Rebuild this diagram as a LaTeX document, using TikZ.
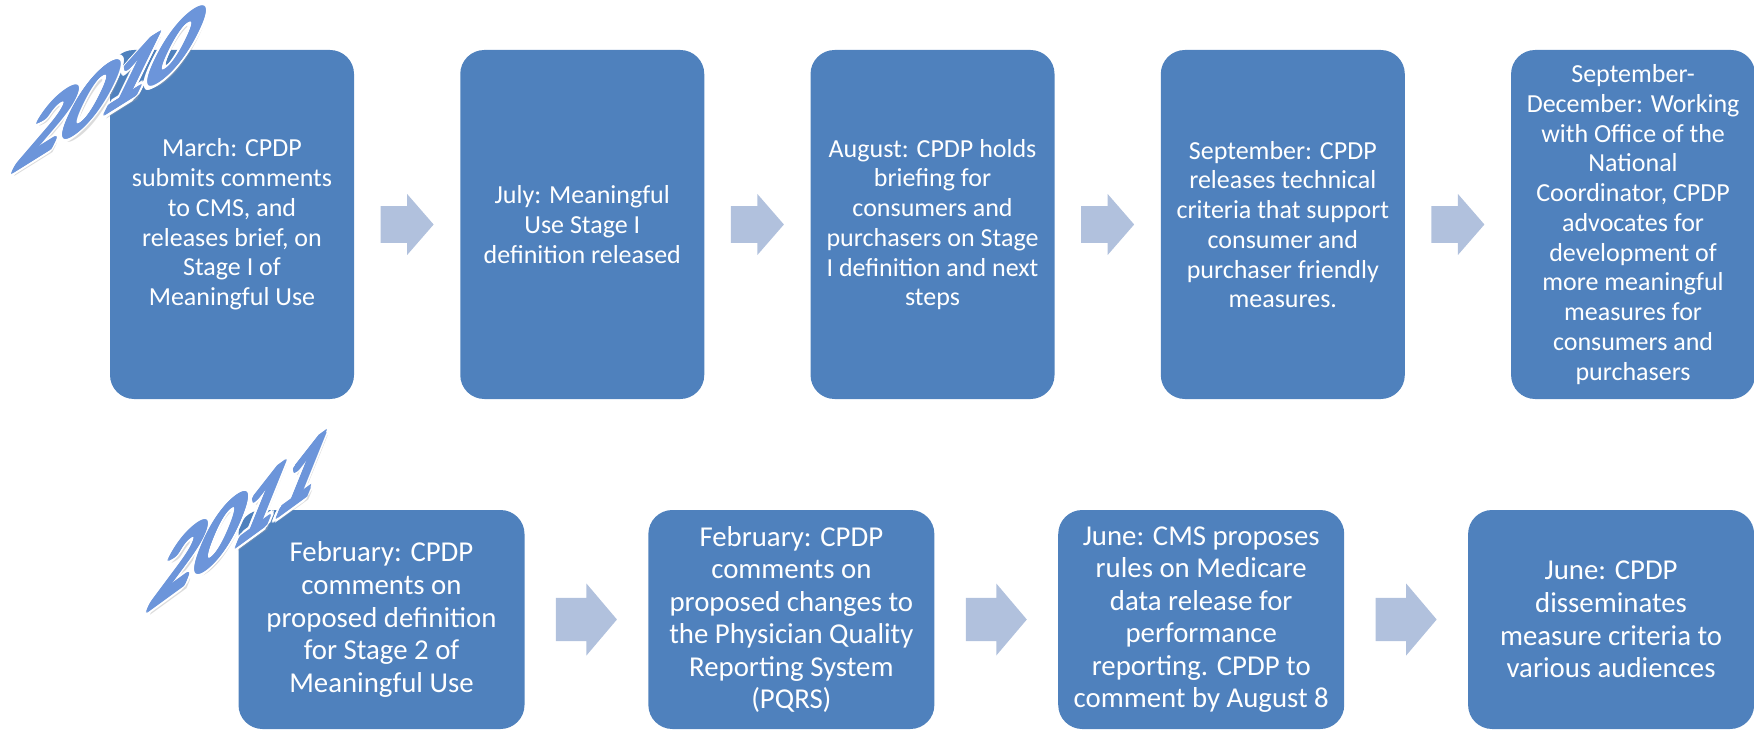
\documentclass[tikz,border=0pt]{standalone}
\usepackage{fontspec}
\setmainfont{Carlito}
\usetikzlibrary{positioning,calc}

\definecolor{boxblue}{HTML}{4F81BD}
\definecolor{arrowblue}{HTML}{B1C1DD}
\definecolor{yearblue}{HTML}{6C95DA}

\newcommand\tightyr[4]{#1\kern-.02em#2\kern-.02em#3\kern-.02em#4}

\tikzset{
  evt/.style={fill=boxblue,rounded corners=18pt,text=white,align=center,inner sep=0pt},
  evtA/.style={evt,minimum width=183pt,minimum height=261.75pt,font=\fontsize{19.5}{22.3}\selectfont},
  evtB/.style={evt,minimum width=214.5pt,minimum height=164.25pt,font=\fontsize{21.6}{24.4}\selectfont},
  fwd/.pic={\fill[arrowblue] (-.5,-.3)--(0,-.3)--(0,-.5)--(.5,0)--(0,.5)--(0,.3)--(-.5,.3)--cycle;},
  yr/.style={font=\bfseries\fontsize{74}{74}\selectfont,inner sep=0pt,transform shape}
}

\begin{document}
\begin{tikzpicture}[x=0.75pt,y=-0.75pt]
\useasboundingbox (0,0) rectangle (1754,731);

% 2010
\node[evtA] (m1) at (232,224.5) {March: CPDP\\submits comments\\to CMS, and\\releases brief, on\\Stage I of\\Meaningful Use};
\node[evtA,right=79.3pt of m1] (m2) {July: Meaningful\\Use Stage I\\definition released};
\node[evtA,right=79.3pt of m2] (m3) {August: CPDP holds\\briefing for\\consumers and\\purchasers on Stage\\I definition and next\\steps};
\node[evtA,right=79.3pt of m3] (m4) {September: CPDP\\releases technical\\criteria that support\\consumer and\\purchaser friendly\\measures.};
\node[evtA,right=79.3pt of m4] (m5) {September-\\December: Working\\with Office of the\\National\\Coordinator, CPDP\\advocates for\\development of\\more meaningful\\measures for\\consumers and\\purchasers};

% 2011
\node[evtB] (n1) at (381.5,619.5) {February: CPDP\\comments on\\proposed definition\\for Stage 2 of\\Meaningful Use};
\node[evtB,right=92.5pt of n1] (n2) {February: CPDP\\comments on\\proposed changes to\\the Physician Quality\\Reporting System\\(PQRS)};
\node[evtB,right=92.5pt of n2] (n3) {June: CMS proposes\\rules on Medicare\\data release for\\performance\\reporting. CPDP to\\comment by August 8};
\node[evtB,right=92.5pt of n3] (n4) {June: CPDP\\disseminates\\measure criteria to\\various audiences};

% block arrows
\foreach \a/\b in {m1/m2,m2/m3,m3/m4,m4/m5}
  \pic[xscale=53,yscale=61] at ($(\a.east)!.5!(\b.west)$) {fwd};
\foreach \a/\b in {n1/n2,n2/n3,n3/n4}
  \pic[xscale=61,yscale=72] at ($(\a.east)!.5!(\b.west)$) {fwd};

% year labels
\begin{scope}[shift={(113,86)},cm={0.890,0.556,0.526,1.079,(0,0)}]
  \node[yr,black!35,opacity=.4] at (6,7) {\tightyr2010};
  \foreach \t in {0,22.5,...,337.5}
    \node[yr,white] at (\t:5) {\tightyr2010};
  \foreach \t in {0,45,...,315}
    \node[yr,yearblue] at (\t:1.5) {\tightyr2010};
  \node[yr,yearblue] (y2010) at (0,0) {\tightyr2010};
\end{scope}
\begin{scope}[shift={(242,518)},cm={0.849,0.617,0.450,1.113,(0,0)}]
  \node[yr,black!35,opacity=.4] at (6,7) {\tightyr2011};
  \foreach \t in {0,22.5,...,337.5}
    \node[yr,white] at (\t:5) {\tightyr2011};
  \foreach \t in {0,45,...,315}
    \node[yr,yearblue] at (\t:1.5) {\tightyr2011};
  \node[yr,yearblue] (y2011) at (0,0) {\tightyr2011};
\end{scope}
\end{tikzpicture}
\end{document}
